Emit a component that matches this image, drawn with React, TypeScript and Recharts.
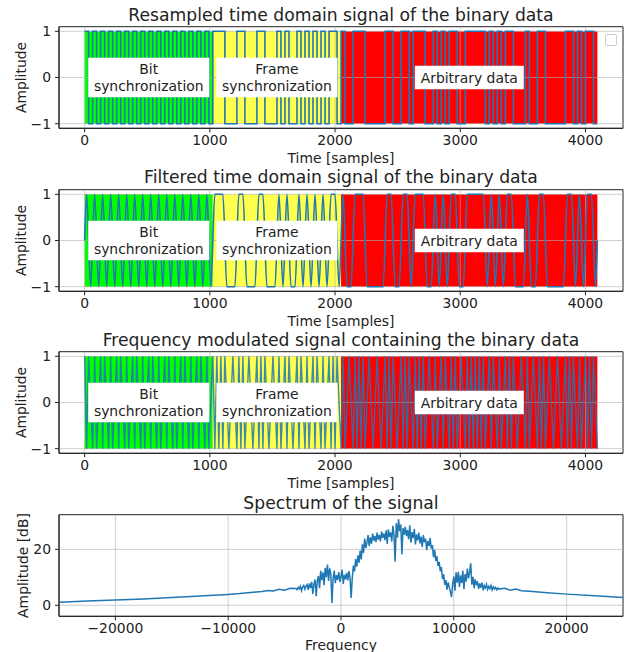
import React from "react";
import { ComposedChart, Line, XAxis, YAxis, ReferenceArea, ReferenceLine, ReferenceDot } from "recharts";

// bit stream: 32 samples per bit, 128 bits
const BIT_SYNC = [1, 0, 1, 0, 1, 0, 1, 0, 1, 0, 1, 0, 1, 0, 1, 0, 1, 0, 1, 0, 1, 0, 1, 0, 1, 0, 1, 0, 1, 0, 1, 0];
const FRAME_SYNC = [1, 1, 1, 0, 0, 0, 1, 1, 0, 0, 0, 1, 1, 0, 0, 0, 1, 0, 1, 0, 0, 1, 0, 1, 0, 1, 0, 1, 0, 1, 1, 0];
const PAYLOAD = [
  1, 0, 0, 1, 1, 1, 0, 0, 0, 0,
  0, 1, 1, 0, 0, 1, 1, 0, 1, 1,
  1, 0, 0, 1, 0, 1, 0, 1, 1, 0,
  0, 1, 1, 1, 1, 1, 0, 1, 0, 1,
  0, 1, 1, 0, 0, 0, 1, 0, 0, 1,
  1, 0, 0, 0, 0, 0, 1, 1, 0, 1,
  0, 1, 1, 0,
];
const SAMPLES_PER_BIT = 32;
const LAST_SAMPLE = 4095;
// half cycles of the FM carrier per bit, indexed by bit value
const FM_HALF_CYCLES = [1, 2];

const REGION_BOUNDS = [0, 1024, 2048, 4096];
const REGION_LABELS = [["Bit", "synchronization"], ["Frame", "synchronization"], ["Arbitrary data"]];
const REGION_LABEL_X = [512, 1536, 3072];

const TIME_TICKS = [0, 1000, 2000, 3000, 4000];
const AMP_TICKS = [-1, 0, 1];
const FREQ_TICKS = [-20000, -10000, 0, 10000, 20000];
const DB_TICKS = [0, 20];

// spectrum (dB)
const SPEC_LEFT_F = [-25000, -22500, -20000, -17500, -15000, -12500, -10000, -9000, -8000, -7500, -7000, -6500, -6000, -5500, -5000, -4500];
const SPEC_LEFT_DB = [1.1, 1.5, 1.9, 2.3, 2.8, 3.3, 3.9, 4.2, 4.6, 4.8, 4.9, 5.3, 5.1, 5.7, 5.4, 6.1];
const SPEC_CORE_START = -4000;
const SPEC_CORE_STEP = 100;
const SPEC_CORE_DB = [
  6.0, 5.6, 6.4, 5.9, 6.8, 5.2, 6.5, 7.1, 5.8, 6.9,
  7.4, 5.5, 7.8, 6.2, 8.4, 4.1, 7.6, 9.2, 3.3, 8.8,
  10.5, 6.1, 12.3, 9.0, 11.8, 7.2, 13.4, 10.1, 14.6, 8.7,
  13.2, 11.0, 0.8, 9.6, 12.4, 7.9, 10.8, 9.1, 11.9, 8.4,
  10.2, 12.8, 7.6, 10.9, 9.3, 11.6, 8.9, 12.2, 10.0, 2.6,
  9.8, 14.2, 12.1, 16.5, 13.8, 17.9, 15.2, 19.6, 16.4, 21.8,
  18.7, 23.9, 20.5, 22.4, 25.1, 21.2, 24.3, 22.0, 25.6, 23.1,
  24.8, 22.6, 26.0, 23.5, 25.2, 22.9, 26.4, 24.1, 25.7, 23.3,
  26.8, 21.9, 27.2, 24.5, 26.1, 22.8, 28.4, 25.0, 15.6, 29.3,
  24.2, 30.8, 26.5, 28.9, 18.2, 27.6, 25.3, 28.1, 24.7, 26.9,
  23.6, 28.6, 22.4, 26.2, 24.0, 27.3, 21.8, 25.4, 23.2, 26.0,
  22.1, 24.6, 20.9, 25.1, 22.5, 23.8, 19.7, 23.0, 21.2, 24.1,
  20.3, 21.5, 17.2, 19.8, 15.9, 17.6, 14.1, 15.5, 12.2, 13.7,
  9.4, 11.1, 7.3, 9.0, 5.6, 8.2, 6.4, 4.9, 2.9, 7.7,
  10.3, 5.2, 11.8, 8.1, 12.0, 6.6, 10.7, 7.9, 12.4, 5.8,
  11.2, 8.5, 13.1, 9.6, 11.9, 15.0, 7.4, 10.2, 6.1, 9.3,
  7.2, 8.6, 5.9, 7.8, 6.3, 8.1, 5.4, 7.0, 6.2, 7.5,
  5.7, 6.8, 6.0, 7.1, 5.5, 6.6, 5.9, 6.4, 5.6, 6.2,
  5.8,
];
const SPEC_RIGHT_F = [14500, 15000, 15500, 16000, 17000, 18000, 20000, 22500, 25000];
const SPEC_RIGHT_DB = [6.1, 5.4, 5.8, 5.2, 4.9, 4.6, 4.0, 3.4, 2.8];

// ---- derived series ----
const BITS = [...BIT_SYNC, ...FRAME_SYNC, ...PAYLOAD];
const lvl = (b: number) => (b ? 1 : -1);

const resampled = BITS.map((b, i) => ({ t: i * SAMPLES_PER_BIT, v: lvl(b) }));
resampled.push({ t: LAST_SAMPLE, v: lvl(BITS[BITS.length - 1]) });

const filtered = [
  { t: 0, v: 0 },
  ...BITS.map((b, i) => ({ t: i * SAMPLES_PER_BIT + SAMPLES_PER_BIT / 2, v: lvl(b) })),
  { t: LAST_SAMPLE, v: 0 },
];

const fm: { t: number; v: number }[] = [{ t: 0, v: 1 }];
{
  let s = 1;
  BITS.forEach((b, i) => {
    const n = FM_HALF_CYCLES[b];
    for (let k = 1; k <= n; k++) {
      s = -s;
      fm.push({ t: i * SAMPLES_PER_BIT + (k * SAMPLES_PER_BIT) / n, v: s });
    }
  });
}

const spectrum = [
  ...SPEC_LEFT_F.map((f, i) => ({ f, db: SPEC_LEFT_DB[i] })),
  ...SPEC_CORE_DB.map((db, i) => ({ f: SPEC_CORE_START + i * SPEC_CORE_STEP, db })),
  ...SPEC_RIGHT_F.map((f, i) => ({ f, db: SPEC_RIGHT_DB[i] })),
];

// ---- layout / style ----
const FONT = "DejaVu Sans";
const INK = "#222";
const BLUE = "#1f77b4";
const REGION_COLORS = ["#00ff00", "#ffff4d", "#ff0000"];
const W = 628;
const PANEL_H = 163;
const MARGIN = { top: 26.7, right: 5, bottom: 4.7, left: 0 };
const Y_AXIS_W = 59;
const X_AXIS_H = 30;
const PANEL_TOPS = [0, 162.6, 324.8, 488];
const TIME_DOMAIN = [-204.75, 4299.75];
const AMP_DOMAIN = [-1.1, 1.1];
const FREQ_DOMAIN = [-25000, 25000];
const DB_DOMAIN = [-3.93, 32.4];

const fmt = (v: number) => (v < 0 ? "\u2212" + Math.abs(v) : String(v));
const tickStyle = { fill: INK, fontSize: 13.9, fontFamily: FONT };

function BoxLabel(props: any) {
  const { viewBox, lines, boxW, boxH } = props;
  const cx = viewBox.x + viewBox.width / 2;
  const cy = viewBox.y + viewBox.height / 2;
  return (
    <g>
      <rect x={cx - boxW / 2} y={cy - boxH / 2} width={boxW} height={boxH} fill="#fff" />
      {lines.map((l: string, i: number) => (
        <text
          key={i}
          x={cx}
          y={cy + (i - (lines.length - 1) / 2) * 16.7}
          textAnchor="middle"
          dominantBaseline="central"
          fontSize={13.9}
          fontFamily={FONT}
          fill={INK}
        >
          {l}
        </text>
      ))}
    </g>
  );
}

function axes(xKey: string, xDomain: number[], xTicks: number[], yDomain: number[], yTicks: number[]) {
  return [
    <XAxis
      key="x"
      dataKey={xKey}
      type="number"
      domain={xDomain}
      ticks={xTicks}
      allowDataOverflow
      height={X_AXIS_H}
      tickSize={4}
      tickMargin={3}
      stroke={INK}
      tick={tickStyle}
      tickFormatter={fmt}
      interval={0}
    />,
    <YAxis
      key="y"
      type="number"
      domain={yDomain}
      ticks={yTicks}
      allowDataOverflow
      width={Y_AXIS_W}
      tickSize={4}
      tickMargin={4}
      stroke={INK}
      tick={tickStyle}
      tickFormatter={fmt}
      interval={0}
    />,
  ];
}

function gridLines(xTicks: number[], yTicks: number[]) {
  return [
    ...xTicks.map((v) => <ReferenceLine key={"gx" + v} x={v} stroke="#b0b0b0" strokeOpacity={0.6} strokeWidth={1} />),
    ...yTicks.map((v) => <ReferenceLine key={"gy" + v} y={v} stroke="#b0b0b0" strokeOpacity={0.6} strokeWidth={1} />),
  ];
}

// full box around the plot area (matplotlib spines)
function frame(xDomain: number[], yDomain: number[]) {
  return (
    <ReferenceArea
      key="frame"
      x1={xDomain[0]}
      x2={xDomain[1]}
      y1={yDomain[0]}
      y2={yDomain[1]}
      fill="none"
      stroke={INK}
      strokeWidth={1}
      ifOverflow="visible"
    />
  );
}

function TimePanel({ data, type, width, opacity }: { data: any[]; type: any; width: number; opacity: number }) {
  return (
    <ComposedChart width={W} height={PANEL_H} margin={MARGIN} data={data}>
      {axes("t", TIME_DOMAIN, TIME_TICKS, AMP_DOMAIN, AMP_TICKS)}
      {REGION_COLORS.map((c, i) => (
        <ReferenceArea key={"r" + i} x1={REGION_BOUNDS[i]} x2={REGION_BOUNDS[i + 1] - 1} y1={-1} y2={1} fill={c} fillOpacity={1} stroke="none" />
      ))}
      {gridLines(TIME_TICKS, AMP_TICKS)}
      <Line dataKey="v" type={type} stroke={BLUE} strokeWidth={width} strokeOpacity={opacity} dot={false} isAnimationActive={false} />
      {REGION_LABELS.map((lines, i) => (
        <ReferenceDot
          key={"l" + i}
          x={REGION_LABEL_X[i]}
          y={0}
          r={0}
          fill="none"
          stroke="none"
          label={{ content: (p: any) => <BoxLabel {...p} lines={lines} boxW={lines.length > 1 ? 121 : 109} boxH={lines.length > 1 ? 39.5 : 23.5} /> }}
        />
      ))}
      {frame(TIME_DOMAIN, AMP_DOMAIN)}
    </ComposedChart>
  );
}

function SpectrumPanel() {
  return (
    <ComposedChart width={W} height={PANEL_H} margin={MARGIN} data={spectrum}>
      {axes("f", FREQ_DOMAIN, FREQ_TICKS, DB_DOMAIN, DB_TICKS)}
      {gridLines(FREQ_TICKS, DB_TICKS)}
      <Line dataKey="db" type="linear" stroke={BLUE} strokeWidth={1.5} dot={false} isAnimationActive={false} />
      {frame(FREQ_DOMAIN, DB_DOMAIN)}
    </ComposedChart>
  );
}

const TITLES = [
  "Resampled time domain signal of the binary data",
  "Filtered time domain signal of the binary data",
  "Frequency modulated signal containing the binary data",
  "Spectrum of the signal",
];
const X_LABELS = ["Time [samples]", "Time [samples]", "Time [samples]", "Frequency"];
const Y_LABELS = ["Amplitude", "Amplitude", "Amplitude", "Amplitude [dB]"];

export default function App() {
  const panels = [
    <TimePanel data={resampled} type="stepAfter" width={1.6} opacity={1} />,
    <TimePanel data={filtered} type="monotone" width={1.6} opacity={1} />,
    <TimePanel data={fm} type="linear" width={1.4} opacity={0.85} />,
    <SpectrumPanel />,
  ];
  return (
    <div style={{ position: "absolute", left: 0, top: 0, width: W, height: 652, background: "#fff", fontFamily: FONT, color: INK, overflow: "hidden" }}>
      {panels.map((p, i) => {
        const top = PANEL_TOPS[i];
        return (
          <React.Fragment key={i}>
            <div style={{ position: "absolute", left: 0, top }}>{p}</div>
            <div style={{ position: "absolute", left: 59, width: 564, top: top + MARGIN.top - 22, height: 20, lineHeight: "20px", fontSize: 17.2, textAlign: "center", whiteSpace: "nowrap" }}>
              {TITLES[i]}
            </div>
            <div style={{ position: "absolute", left: 59, width: 564, top: top + 128.3 + (i === 3 ? 20.5 : 22), height: 17, lineHeight: "17px", fontSize: 13.9, textAlign: "center" }}>
              {X_LABELS[i]}
            </div>
            <div
              style={{
                position: "absolute",
                left: (i === 3 ? 23 : 21) - 75,
                top: top + 77.5 - 8.5,
                width: 150,
                height: 17,
                lineHeight: "17px",
                fontSize: 13.9,
                textAlign: "center",
                transform: "rotate(-90deg)",
              }}
            >
              {Y_LABELS[i]}
            </div>
          </React.Fragment>
        );
      })}
      <div style={{ position: "absolute", left: 605, top: 34, width: 10, height: 10, border: "1px solid #ccc", borderRadius: 2, background: "#fff" }} />
    </div>
  );
}
